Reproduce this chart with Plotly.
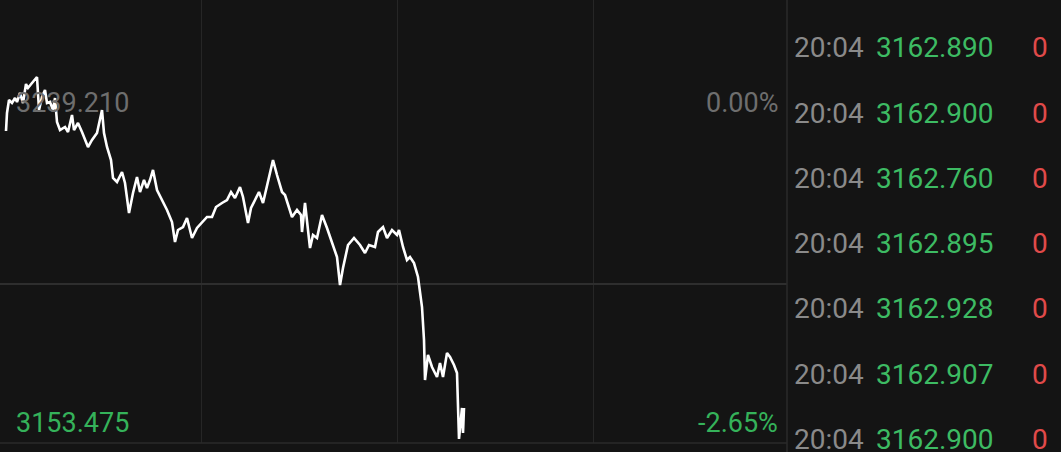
import plotly.graph_objects as go

# ---- data ----
prev_close = 3239.210
low_label = 3153.475
low_pct = "-2.65%"
slot = [6, 7, 9, 12, 15, 17, 20, 23, 26, 28, 32, 37, 39, 42, 45, 47, 50, 53, 55, 57,
        60, 65, 68, 72, 74, 78, 82, 85, 88, 92, 97, 102, 104, 107, 111, 113, 117, 122, 125, 129,
        133, 137, 140, 144, 147, 150, 153, 157, 162, 167, 172, 175, 178, 183, 187, 192, 197, 202, 207, 212,
        216, 222, 227, 231, 235, 240, 243, 248, 251, 255, 259, 263, 268, 273, 277, 282, 285, 288, 292, 297,
        301, 302, 305, 310, 313, 317, 322, 327, 332, 337, 340, 343, 348, 354, 360, 365, 369, 375, 378, 383,
        387, 392, 397, 399, 403, 407, 410, 414, 418, 422, 424, 425, 428, 432, 437, 440, 443, 447, 450, 454,
        457, 458, 459, 462, 463, 464]
price = [3237.59, 3242.45, 3245.95, 3245.14, 3246.49, 3245.41, 3247.84, 3245.14, 3250.26, 3249.19,
         3250.53, 3252.15, 3243.25, 3246.76, 3248.65, 3245.14, 3245.41, 3243.25, 3246.49, 3240.02,
         3237.86, 3238.67, 3237.32, 3241.91, 3237.86, 3239.75, 3237.32, 3235.17, 3233.28, 3235.17,
         3237.05, 3243.25, 3237.05, 3233.28, 3229.77, 3224.92, 3223.84, 3226.54, 3223.57, 3215.49,
         3220.88, 3225.19, 3221.15, 3224.38, 3222.22, 3224.38, 3227.08, 3221.69, 3218.99, 3216.29,
         3213.06, 3207.67, 3210.90, 3211.71, 3214.14, 3208.74, 3211.44, 3212.79, 3214.41, 3214.41,
         3217.10, 3218.18, 3218.99, 3221.15, 3219.53, 3222.49, 3219.80, 3212.79, 3216.83, 3218.99,
         3221.15, 3218.18, 3223.57, 3229.77, 3225.73, 3221.15, 3220.34, 3217.64, 3214.41, 3216.29,
         3214.95, 3210.36, 3218.18, 3206.05, 3209.55, 3208.74, 3214.95, 3211.44, 3207.40, 3203.62,
         3196.07, 3200.66, 3206.86, 3208.74, 3206.86, 3204.70, 3206.86, 3206.32, 3210.36, 3211.71,
         3208.74, 3210.90, 3209.55, 3210.90, 3206.32, 3202.81, 3203.62, 3202.00, 3198.23, 3190.14,
         3181.24, 3170.46, 3177.20, 3173.97, 3171.27, 3175.05, 3171.27, 3177.74, 3176.66, 3174.51,
         3172.35, 3163.18, 3154.56, 3162.91, 3156.17, 3162.91]

tick_times = ["20:04", "20:04", "20:04", "20:04", "20:04", "20:04", "20:04"]
tick_prices = ["3162.890", "3162.900", "3162.760", "3162.895", "3162.928", "3162.907", "3162.900"]
tick_vols = ["0", "0", "0", "0", "0", "0", "0"]

BG = "#141414"
W, H = 1061, 452
PLOT_R = 787
PLOT_B = 443
GRID = "#262626"

fig = go.Figure()
fig.add_trace(go.Scatter(x=slot, y=price, mode="lines",
                         line=dict(color="#ffffff", width=2.6), hoverinfo="skip"))

# y range so prev_close sits at pixel 125 and low at bottom (443)
span = prev_close - low_label
px_per = (PLOT_B - 125) / span
y_top = prev_close + 125 / px_per
mid_low = (prev_close + low_label) / 2

fig.update_layout(
    width=W, height=H, paper_bgcolor=BG, plot_bgcolor=BG,
    margin=dict(l=0, r=0, t=0, b=0), showlegend=False,
    xaxis=dict(domain=[0, PLOT_R / W], range=[0, 787], showticklabels=False,
               tickvals=[201, 397, 593], showgrid=True, gridcolor=GRID, gridwidth=1,
               zeroline=False, showline=False, fixedrange=True),
    yaxis=dict(domain=[(H - PLOT_B) / H, 1], range=[low_label, y_top], showticklabels=False,
               tickvals=[mid_low], showgrid=True, gridcolor="#2e2e2e", gridwidth=1.5,
               zeroline=False, showline=False, fixedrange=True),
)

# borders: bottom line of chart and separator to the right panel
fig.add_shape(type="line", xref="paper", yref="paper", x0=0, x1=PLOT_R / W,
              y0=(H - PLOT_B) / H, y1=(H - PLOT_B) / H, line=dict(color="#2a2a2a", width=1.5))
fig.add_shape(type="line", xref="paper", yref="paper", x0=PLOT_R / W, x1=PLOT_R / W,
              y0=0, y1=1, line=dict(color="#2a2a2a", width=1.5))

FONT = "Roboto"
anns = []
# left labels
anns.append(dict(x=14 / W, y=1 - 103 / H, text=f"{prev_close:.3f}", xanchor="left", yanchor="middle",
                 font=dict(family=FONT, size=27, color="#6e6e6e")))
anns.append(dict(x=780 / W, y=1 - 103 / H, text="0.00%", xanchor="right", yanchor="middle",
                 font=dict(family=FONT, size=27, color="#6e6e6e")))
anns.append(dict(x=14 / W, y=1 - 423 / H, text=f"{low_label:.3f}", xanchor="left", yanchor="middle",
                 font=dict(family=FONT, size=27, color="#35b25a")))
anns.append(dict(x=780 / W, y=1 - 423 / H, text=low_pct, xanchor="right", yanchor="middle",
                 font=dict(family=FONT, size=27, color="#35b25a")))

row_y0, row_dy = 48, 65.2
for i, (t, p, v) in enumerate(zip(tick_times, tick_prices, tick_vols)):
    yy = 1 - (row_y0 + i * row_dy) / H
    anns.append(dict(x=792 / W, y=yy, text=t, xanchor="left", yanchor="middle",
                     font=dict(family=FONT, size=28, color="#8a8a8a")))
    anns.append(dict(x=874 / W, y=yy, text=p, xanchor="left", yanchor="middle",
                     font=dict(family=FONT, size=28, color="#3dbb63")))
    anns.append(dict(x=1050 / W, y=yy, text=v, xanchor="right", yanchor="middle",
                     font=dict(family=FONT, size=28, color="#e04a4a")))

for a in anns:
    a.update(xref="paper", yref="paper", showarrow=False)
fig.update_layout(annotations=anns)

fig.write_html("out.html", config={"displayModeBar": False},
               post_script="document.body.style.margin='0px';document.body.style.overflow='hidden';")
